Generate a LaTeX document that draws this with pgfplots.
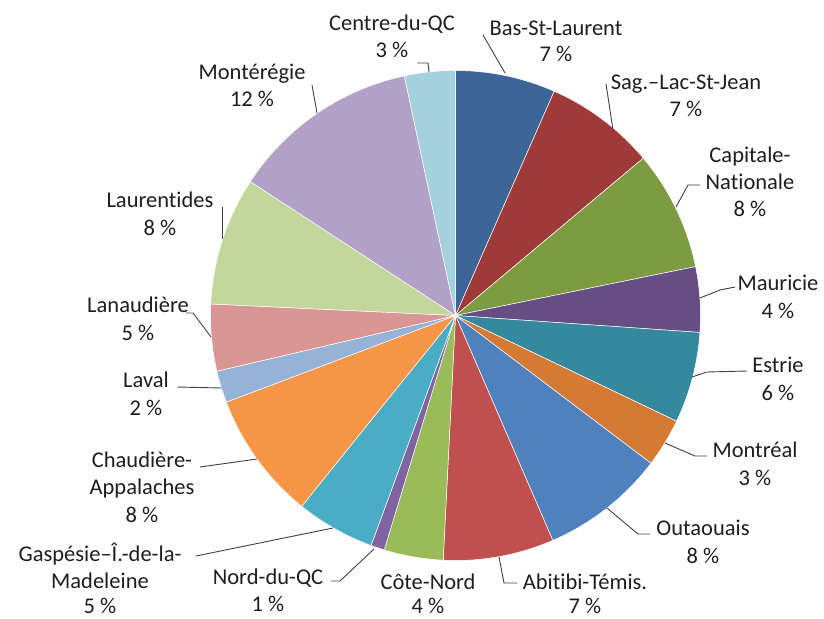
\documentclass[border=0pt]{standalone}
\usepackage{pgfplots}
\usepackage{pgfplotstable}
\pgfplotsset{compat=1.18}
\usepackage{fontspec}
\setmainfont{Carlito}[Ligatures={NoCommon}]

\definecolor{c1}{HTML}{3D6496}
\definecolor{c2}{HTML}{9E3A38}
\definecolor{c3}{HTML}{7D9B40}
\definecolor{c4}{HTML}{664E85}
\definecolor{c5}{HTML}{35899E}
\definecolor{c6}{HTML}{D47A35}
\definecolor{c7}{HTML}{4F81BD}
\definecolor{c8}{HTML}{C0504D}
\definecolor{c9}{HTML}{9BBB59}
\definecolor{c10}{HTML}{8064A2}
\definecolor{c11}{HTML}{4BACC6}
\definecolor{c12}{HTML}{F79646}
\definecolor{c13}{HTML}{95B3D7}
\definecolor{c14}{HTML}{D99694}
\definecolor{c15}{HTML}{C3D69B}
\definecolor{c16}{HTML}{B3A2C7}
\definecolor{c17}{HTML}{A5D0DE}
\definecolor{txt}{HTML}{1E1E1E}
\definecolor{lead}{HTML}{404040}

% share of each region (percent), clockwise from the top
\pgfplotstableread{
region share col
BasStLaurent      6.6  c1
SagLacStJean      7.3  c2
CapitaleNationale 7.9  c3
Mauricie          4.3  c4
Estrie            6.0  c5
Montreal          3.2  c6
Outaouais         8.2  c7
AbitibiTemis      7.3  c8
CoteNord          3.9  c9
NordduQC          0.9  c10
Gaspesie          5.2  c11
Chaudiere         8.45 c12
Laval             2.1  c13
Lanaudiere        4.4  c14
Laurentides       8.45 c15
Monteregie        12.45 c16
CentreduQC        3.35 c17
}\piedata

\tikzset{
  lbl/.style={anchor=base, inner sep=0pt, text=txt, font=\fontsize{22.5}{27}\selectfont},
  leader/.style={draw=lead, line width=0.9pt},
}
\newcommand\lb[3]{\node[lbl] at (axis cs:#1,#2) {#3};}

\begin{document}
\begin{tikzpicture}[x=1pt,y=1pt]
\useasboundingbox (0,0) rectangle (824,618);
\clip (0,0) rectangle (824,618);
\begin{axis}[
  at={(0,0)}, anchor=south west,
  scale only axis, width=824pt, height=618pt,
  xmin=0, xmax=824, ymin=0, ymax=618, y dir=reverse,
  hide axis, clip=false,
]
\pgfplotstablegetrowsof{\piedata}
\pgfmathtruncatemacro\lastrow{\pgfplotsretval-1}
\def\cum{0}
\pgfplotsforeachungrouped \i in {0,...,\lastrow}{%
  \pgfplotstablegetelem{\i}{share}\of\piedata
  \let\val\pgfplotsretval
  \pgfplotstablegetelem{\i}{col}\of\piedata
  \let\col\pgfplotsretval
  \pgfmathsetmacro\angA{-90+3.6*\cum}%
  \pgfmathsetmacro\cum{\cum+\val}%
  \pgfmathsetmacro\angB{-90+3.6*\cum}%
  \edef\doplot{\noexpand\addplot[fill=\col, draw=white, line width=0.5pt, domain=\angA:\angB, samples=60, variable=\noexpand\t] ({455.5+245*cos(\noexpand\t)}, {315.5+245*sin(\noexpand\t)}) -- (axis cs:455.5,315.5) -- cycle;}%
  \doplot
}

% leader lines
\draw[leader] (axis cs:417,63) -- (axis cs:428,63) -- (axis cs:429,72);
\draw[leader] (axis cs:483,35) -- (axis cs:505,73);
\draw[leader] (axis cs:606,84) -- (axis cs:613,130);
\draw[leader] (axis cs:700,185) -- (axis cs:688,185) -- (axis cs:676,207);
\draw[leader] (axis cs:735,287) -- (axis cs:720,290) -- (axis cs:700,298);
\draw[leader] (axis cs:747,371) -- (axis cs:707,372) -- (axis cs:692,377);
\draw[leader] (axis cs:707,456) -- (axis cs:695,456) -- (axis cs:665,443);
\draw[leader] (axis cs:650,534) -- (axis cs:638,534) -- (axis cs:607,508);
\draw[leader] (axis cs:517,583) -- (axis cs:504,583) -- (axis cs:499,557);
\draw[leader] (axis cs:331,581) -- (axis cs:340,581) -- (axis cs:374,549);
\draw[leader] (axis cs:196,556) -- (axis cs:333,528);
\draw[leader] (axis cs:200,467) -- (axis cs:257,459);
\draw[leader] (axis cs:177,387) -- (axis cs:222,388);
\draw[leader] (axis cs:186,313) -- (axis cs:193,313) -- (axis cs:211,337);
\draw[leader] (axis cs:222,207) -- (axis cs:222,239);
\draw[leader] (axis cs:312,85) -- (axis cs:317,113);

% labels
\lb{392}{31}{Centre-du-QC} \lb{392}{58}{3 \%}
\lb{556}{36}{Bas-St-Laurent} \lb{556}{62}{7 \%}
\lb{686}{89}{Sag.–Lac-St-Jean} \lb{686}{116}{7 \%}
\lb{750}{162}{Capitale-} \lb{750}{189}{Nationale} \lb{750}{216}{8 \%}
\lb{778}{290}{Mauricie} \lb{778}{318}{4 \%}
\lb{778}{372}{Estrie} \lb{778}{400}{6 \%}
\lb{755}{457}{Montréal} \lb{755}{485}{3 \%}
\lb{703}{535}{Outaouais} \lb{703}{563}{8 \%}
\lb{585}{589}{Abitibi-Témis.} \lb{585}{613}{7 \%}
\lb{428}{589}{Côte-Nord} \lb{428}{613}{4 \%}
\lb{268}{584}{Nord-du-QC} \lb{268}{611}{1 \%}
\lb{100}{561}{Gaspésie–Î.-de-la-} \lb{100}{588}{Madeleine} \lb{100}{613}{5 \%}
\lb{142}{467}{Chaudière-} \lb{142}{494}{Appalaches} \lb{142}{522}{8 \%}
\lb{146}{387}{Laval} \lb{146}{415}{2 \%}
\lb{138}{312}{Lanaudière} \lb{138}{340}{5 \%}
\lb{160}{207}{Laurentides} \lb{160}{235}{8 \%}
\lb{252}{79}{Montérégie} \lb{252}{106}{12 \%}
\end{axis}
\end{tikzpicture}
\end{document}
